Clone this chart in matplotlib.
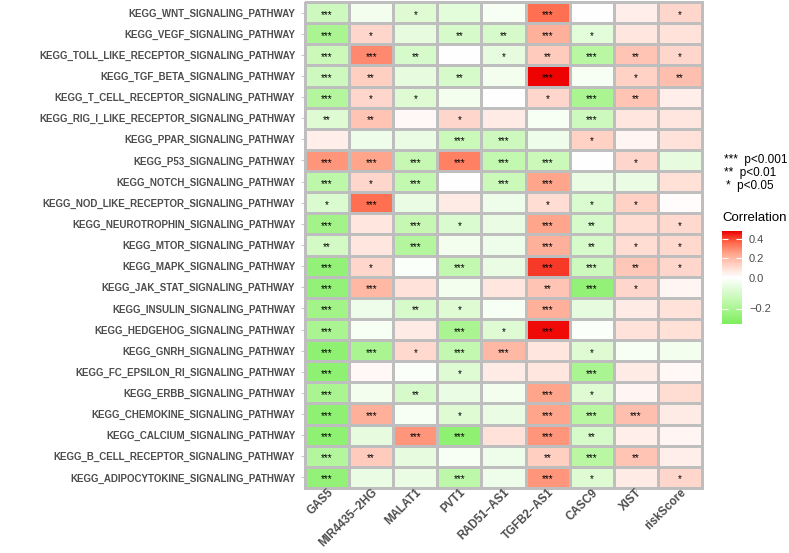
#! /usr/bin/env python3

import numpy as np
import matplotlib
matplotlib.use('Agg')
import matplotlib.pyplot as plt
from matplotlib.colors import LinearSegmentedColormap, TwoSlopeNorm

plt.rcParams['font.family'] = ['Liberation Sans', 'DejaVu Sans']

genes = ['GAS5', 'MIR4435\u22122HG', 'MALAT1', 'PVT1', 'RAD51\u2212AS1',
         'TGFB2\u2212AS1', 'CASC9', 'XIST', 'riskScore']

pathways = [
  'KEGG_WNT_SIGNALING_PATHWAY',
  'KEGG_VEGF_SIGNALING_PATHWAY',
  'KEGG_TOLL_LIKE_RECEPTOR_SIGNALING_PATHWAY',
  'KEGG_TGF_BETA_SIGNALING_PATHWAY',
  'KEGG_T_CELL_RECEPTOR_SIGNALING_PATHWAY',
  'KEGG_RIG_I_LIKE_RECEPTOR_SIGNALING_PATHWAY',
  'KEGG_PPAR_SIGNALING_PATHWAY',
  'KEGG_P53_SIGNALING_PATHWAY',
  'KEGG_NOTCH_SIGNALING_PATHWAY',
  'KEGG_NOD_LIKE_RECEPTOR_SIGNALING_PATHWAY',
  'KEGG_NEUROTROPHIN_SIGNALING_PATHWAY',
  'KEGG_MTOR_SIGNALING_PATHWAY',
  'KEGG_MAPK_SIGNALING_PATHWAY',
  'KEGG_JAK_STAT_SIGNALING_PATHWAY',
  'KEGG_INSULIN_SIGNALING_PATHWAY',
  'KEGG_HEDGEHOG_SIGNALING_PATHWAY',
  'KEGG_GNRH_SIGNALING_PATHWAY',
  'KEGG_FC_EPSILON_RI_SIGNALING_PATHWAY',
  'KEGG_ERBB_SIGNALING_PATHWAY',
  'KEGG_CHEMOKINE_SIGNALING_PATHWAY',
  'KEGG_CALCIUM_SIGNALING_PATHWAY',
  'KEGG_B_CELL_RECEPTOR_SIGNALING_PATHWAY',
  'KEGG_ADIPOCYTOKINE_SIGNALING_PATHWAY',
]

# correlation, one row per pathway (top to bottom), columns as genes
corr = [
  [-0.12, -0.03, -0.08, -0.07, -0.02,  0.35,  0.00,  0.05,  0.12],
  [-0.20,  0.12, -0.06, -0.10, -0.10,  0.22, -0.07,  0.07,  0.08],
  [-0.13,  0.30, -0.10,  0.00, -0.06,  0.15, -0.17,  0.17,  0.12],
  [-0.12,  0.14, -0.06, -0.10, -0.03,  0.48, -0.02,  0.13,  0.18],
  [-0.18,  0.12, -0.08, -0.03,  0.00,  0.12, -0.20,  0.17,  0.05],
  [-0.08,  0.17,  0.02,  0.12,  0.06, -0.02, -0.12,  0.07,  0.07],
  [ 0.05, -0.04, -0.05, -0.13, -0.12, -0.04,  0.13,  0.03,  0.08],
  [ 0.28,  0.25, -0.14,  0.32, -0.15, -0.13,  0.00,  0.12, -0.06],
  [-0.16,  0.12, -0.15,  0.00, -0.13,  0.25, -0.05, -0.05,  0.09],
  [-0.09,  0.35, -0.05,  0.06, -0.04,  0.10, -0.09,  0.13,  0.01],
  [-0.22,  0.07, -0.14, -0.09, -0.05,  0.25, -0.10,  0.10,  0.11],
  [-0.11,  0.07, -0.18, -0.03, -0.04,  0.22, -0.10,  0.10,  0.11],
  [-0.25,  0.12, -0.01, -0.15, -0.05,  0.42, -0.12,  0.16,  0.12],
  [-0.25,  0.20,  0.08, -0.03,  0.07,  0.17, -0.25,  0.12,  0.03],
  [-0.22, -0.04, -0.10, -0.08, -0.02,  0.22, -0.06,  0.06,  0.08],
  [-0.20, -0.02,  0.06, -0.20, -0.08,  0.47, -0.01,  0.08,  0.09],
  [-0.26, -0.20,  0.11, -0.15,  0.20,  0.07, -0.08, -0.02, -0.03],
  [-0.26,  0.02, -0.01, -0.08,  0.06,  0.07, -0.20,  0.06,  0.02],
  [-0.20, -0.03, -0.10, -0.05, -0.03,  0.25, -0.08,  0.03,  0.10],
  [-0.26,  0.22, -0.02, -0.08, -0.05,  0.25, -0.17,  0.18,  0.06],
  [-0.26, -0.06,  0.28, -0.26,  0.08,  0.28, -0.10,  0.05,  0.03],
  [-0.18,  0.15, -0.06, -0.02, -0.04,  0.14, -0.17,  0.17,  0.05],
  [-0.25, -0.05, -0.05, -0.16, -0.04,  0.28, -0.08,  0.06,  0.12],
]

stars = [
  ['***', '',    '*',   '',    '',    '***', '',    '',    '*'],
  ['***', '*',   '',    '**',  '**',  '***', '*',   '',    ''],
  ['***', '***', '**',  '',    '*',   '**',  '***', '**',  '*'],
  ['***', '**',  '',    '**',  '',    '***', '',    '*',   '**'],
  ['***', '*',   '*',   '',    '',    '*',   '***', '**',  ''],
  ['**',  '**',  '',    '*',   '',    '',    '***', '',    ''],
  ['',    '',    '',    '***', '***', '',    '*',   '',    ''],
  ['***', '***', '***', '***', '***', '***', '',    '*',   ''],
  ['***', '*',   '***', '',    '***', '***', '',    '',    ''],
  ['*',   '***', '',    '',    '',    '*',   '*',   '*',   ''],
  ['***', '',    '***', '*',   '',    '***', '**',  '',    '*'],
  ['**',  '',    '***', '',    '',    '***', '**',  '*',   '*'],
  ['***', '*',   '',    '***', '',    '***', '***', '**',  '*'],
  ['***', '***', '',    '',    '',    '**',  '***', '*',   ''],
  ['***', '',    '**',  '*',   '',    '***', '',    '',    ''],
  ['***', '',    '',    '***', '*',   '***', '',    '',    ''],
  ['***', '***', '*',   '***', '***', '',    '*',   '',    ''],
  ['***', '',    '',    '*',   '',    '',    '***', '',    ''],
  ['***', '',    '**',  '',    '',    '***', '*',   '',    ''],
  ['***', '***', '',    '*',   '',    '***', '***', '***', ''],
  ['***', '',    '***', '***', '',    '***', '**',  '',    ''],
  ['***', '**',  '',    '',    '',    '**',  '***', '**',  ''],
  ['***', '',    '',    '***', '',    '***', '*',   '',    '*'],
]

cbar_ticks = [-0.2, 0.0, 0.2, 0.4]

cmap = LinearSegmentedColormap.from_list('corr', [
  (0.0, '#7DEE5B'), (0.25, '#C2F8AF'), (0.5, '#FFFFFF'),
  (0.625, '#FFD6CA'), (0.75, '#FFA890'), (0.875, '#FF6A4B'), (1.0, '#EE0000')])
norm = TwoSlopeNorm(vmin=-0.30, vcenter=0.0, vmax=0.485)

W, H = 789, 553
fig = plt.figure(figsize=(W / 100, H / 100), dpi=100)
ax = fig.add_axes([305 / W, 1 - 488 / H, 397 / W, 486 / H])

data = np.array(corr)
nr, nc = data.shape
mesh = ax.pcolormesh(np.arange(nc + 1) - 0.5, np.arange(nr + 1) - 0.5, data,
                     cmap=cmap, norm=norm, edgecolors='#BEBEBE', linewidth=2.0)
mesh.set_clip_on(False)
ax.set_xlim(-0.5, nc - 0.5)
ax.set_ylim(nr - 0.5, -0.5)

for i in range(nr):
  for j in range(nc):
    if stars[i][j]:
      ax.text(j, i + 0.1, stars[i][j], ha='center', va='center',
              fontsize=7, color='black')

for s in ax.spines.values():
  s.set_visible(False)
ax.set_xticks(range(nc))
ax.set_xticklabels(genes, rotation=45, ha='right', va='top', rotation_mode='anchor',
                   fontsize=8.3, fontweight='bold', color='#4D4D4D')
ax.set_yticks(range(nr))
ax.set_yticklabels(pathways, fontsize=7.0, fontweight='bold', color='#4D4D4D')
ax.tick_params(axis='both', length=3, width=0.6, color='#BBBBBB')
ax.tick_params(axis='y', pad=4)
ax.tick_params(axis='x', pad=-4)

# significance legend
fig.text(724 / W, 1 - 160 / H, '***  p<0.001', fontsize=8.5, va='center', color='black')
fig.text(724 / W, 1 - 173 / H, '**  p<0.01', fontsize=8.5, va='center', color='black')
fig.text(726 / W, 1 - 186 / H, '*  p<0.05', fontsize=8.5, va='center', color='black')

# colour bar
cax = fig.add_axes([722 / W, 1 - 324 / H, 20 / W, 93 / H])
cb = fig.colorbar(mesh, cax=cax, ticks=cbar_ticks)
cb.outline.set_visible(False)
cb.ax.tick_params(length=4, width=0.8, color='white', direction='in', labelsize=8,
                  labelcolor='#4D4D4D', pad=5, left=True)
cb.ax.set_yticklabels([f'{t:.1f}'.replace('-', '\u2212') for t in cbar_ticks])
fig.text(722 / W, 1 - 218 / H, 'Correlation', fontsize=9.5, va='center', color='black')

fig.savefig('out.png', dpi=100)
